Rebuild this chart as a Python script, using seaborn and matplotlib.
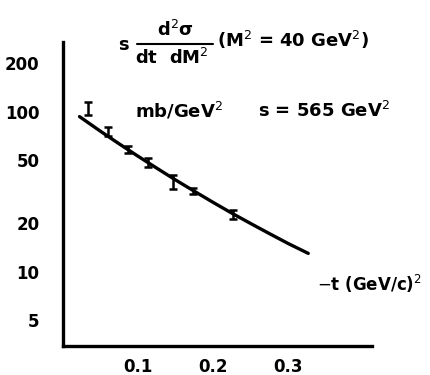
import matplotlib
matplotlib.use("Agg")
import matplotlib.pyplot as plt
import seaborn as sns
import numpy as np
import pandas as pd
from matplotlib.lines import Line2D

# data
t_data = [0.033, 0.060, 0.087, 0.114, 0.147, 0.174, 0.227]
xs_data = [105, 75, 58, 48, 36.5, 32, 22.7]
xs_err = [10, 5, 3, 3, 3.6, 1.5, 1.5]

t_curve = [0.022, 0.050, 0.075, 0.100, 0.125, 0.150, 0.175, 0.200, 0.225, 0.250, 0.275, 0.300, 0.327]
xs_curve = [93, 75.3, 62.8, 52.6, 44.3, 37.4, 31.8, 27.1, 23.2, 20.0, 17.3, 15.0, 13.0]

y_ticks = [5, 10, 20, 50, 100, 200]
y_ticklabels = ["5", "10", "20", "50", "100", "200"]
x_ticks = [0.1, 0.2, 0.3]
x_ticklabels = ["0.1", "0.2", "0.3"]

sns.set_style("white")
plt.rcParams["font.family"] = ["DejaVu Sans"]

fig = plt.figure(figsize=(4.31, 3.75), dpi=100)
ax = fig.add_axes([63/431, 1 - 346/375, (372 - 63)/431, (346 - 42)/375])

curve = pd.DataFrame({"t": t_curve, "xs": xs_curve})
sns.lineplot(data=curve, x="t", y="xs", ax=ax, color="black", lw=2.4)
ax.errorbar(t_data, xs_data, yerr=xs_err, fmt="none", ecolor="black",
            elinewidth=1.8, capsize=3, capthick=1.8)

ax.set_yscale("log")
ax.set_xlim(0, 0.412)
ax.set_ylim(3.43, 272)
ax.set_yticks(y_ticks)
ax.set_yticklabels(y_ticklabels)
ax.minorticks_off()
ax.set_xticks(x_ticks)
ax.set_xticklabels(x_ticklabels)
ax.set_xlabel("")
ax.set_ylabel("")

for s in ["top", "right"]:
    ax.spines[s].set_visible(False)
for s in ["left", "bottom"]:
    ax.spines[s].set_linewidth(2.4)
    ax.spines[s].set_color("black")

ax.tick_params(axis="y", direction="in", length=8, width=2, pad=17,
               labelsize=12, colors="black")
ax.tick_params(axis="x", direction="in", length=6, width=2, pad=9,
               labelsize=12, colors="black")
for lab in ax.get_xticklabels() + ax.get_yticklabels():
    lab.set_fontweight("bold")

kw = dict(color="black", fontweight="bold", fontsize=13)
fig.text(123/431, 1 - 45/375, "s", ha="center", va="center", **kw)
fig.text(175/431, 1 - 30/375, r"d$^2$σ", ha="center", va="center", **kw)
fig.add_artist(Line2D([137/431, 213/431], [1 - 44/375, 1 - 44/375],
                      color="black", lw=1.5, transform=fig.transFigure))
fig.text(172/431, 1 - 58/375, r"dt  dM$^2$", ha="center", va="center", **kw)
fig.text(217/431, 1 - 40/375, r"(M$^2$ = 40 GeV$^2$)", ha="left", va="center", **kw)
fig.text(135/431, 1 - 111/375, r"mb/GeV$^2$", ha="left", va="center", **kw)
fig.text(258/431, 1 - 111/375, r"s = 565 GeV$^2$", ha="left", va="center", **kw)
fig.text(317/431, 1 - 284/375, r"$-$t (GeV/c)$^2$", ha="left", va="center",
         color="black", fontweight="bold", fontsize=12)

fig.savefig("out.png", dpi=100)
